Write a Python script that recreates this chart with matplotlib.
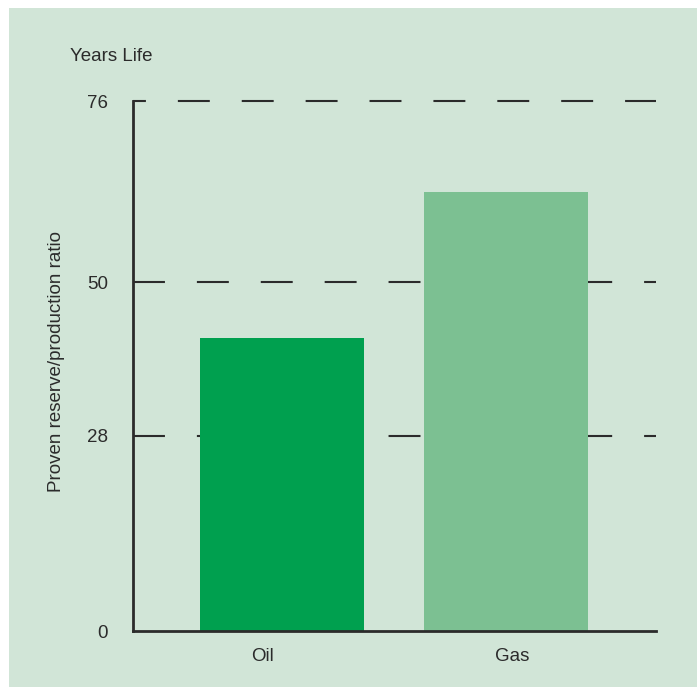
import matplotlib.pyplot as plt
from matplotlib.patches import Rectangle

# data
fuels = ["Oil", "Gas"]
years = [42, 63]
ticks = [0, 28, 50, 76]
bar_colors = ["#00a04f", "#7cc092"]

bg = "#d1e5d7"
ink = "#2b2b2b"
fs = 13.5

plt.rcParams['font.family'] = ['Liberation Sans', 'DejaVu Sans']

fig = plt.figure(figsize=(6.97, 6.87), dpi=100)
fig.patch.set_facecolor("white")
# green panel with thin white margin top/left
fig.patches.append(Rectangle((9 / 697, -0.05), 1.1, 0.05 + 679 / 687, transform=fig.transFigure,
                             facecolor=bg, edgecolor="none", zorder=-5))

ax = fig.add_axes([133 / 697, 56 / 687, 523 / 697, 530 / 687])
ax.set_facecolor("none")

x = list(range(len(fuels)))
ax.bar(x, years, width=0.732, color=bar_colors, zorder=3)

# dashed reference lines (bars sit on top)
lw = 1.5
dash = 23 / lw
ax.axhline(28, color=ink, lw=lw, linestyle=(0, (dash, dash)), zorder=1)
ax.axhline(50, color=ink, lw=lw, linestyle=(0, (dash, dash)), zorder=1)
ax.axhline(76, color=ink, lw=lw, linestyle=(13.7 / lw, (dash, dash)), zorder=1, clip_on=False)

ax.set_xlim(-0.665, 1.67)
ax.set_ylim(0, 76)
ax.set_yticks(ticks)
ax.set_yticklabels([str(t) for t in ticks], fontsize=fs, color=ink)
ax.set_xticks([-0.085, 1.027])
ax.set_xticklabels(fuels, fontsize=fs, color=ink)
ax.tick_params(axis="y", length=0, pad=18)
ax.tick_params(axis="x", length=0, pad=12)

for s in ["top", "right"]:
    ax.spines[s].set_visible(False)
for s in ["left", "bottom"]:
    ax.spines[s].set_linewidth(2)
    ax.spines[s].set_color(ink)
    ax.spines[s].set_zorder(4)

ax.set_ylabel("Proven reserve/production ratio", fontsize=fs, color=ink)
ax.yaxis.set_label_coords(-0.13, 0.508)

fig.text(70 / 697, (687 - 61) / 687, "Years Life", fontsize=fs, color=ink,
         ha="left", va="baseline")

fig.savefig("out.png", dpi=100, facecolor=fig.get_facecolor())
